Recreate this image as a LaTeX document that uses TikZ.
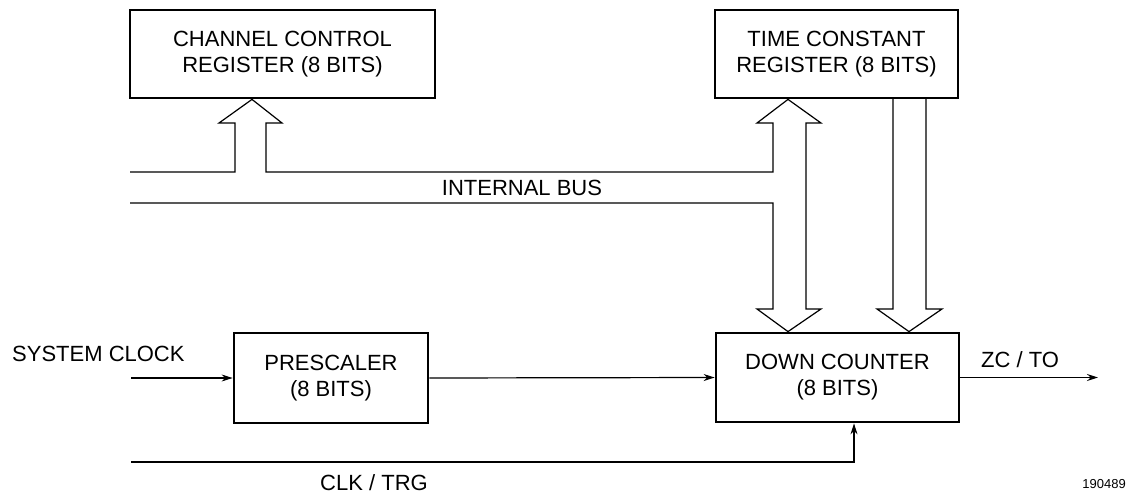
\documentclass[tikz,border=0pt]{standalone}
\usepackage{fontspec}
\setmainfont{Liberation Sans}
\usetikzlibrary{arrows.meta,calc}
\begin{document}
\begin{tikzpicture}[x=1pt,y=-1pt,
  blockbox/.style={draw,line width=2.8pt,inner sep=0pt,align=center,font=\fontsize{22}{26}\selectfont},
  lbl/.style={inner sep=0pt,font=\fontsize{22}{26}\selectfont},
  conn/.style={line width=1.2pt},
  arr/.style={conn,-{Stealth[length=11pt,width=7pt]}},
  fat/.style={line width=1.2pt,line join=miter}]
\useasboundingbox (0,0) rectangle (1128,495);
\node[blockbox,minimum width=305pt,minimum height=88pt] (ccr) at (282.5,54) {CHANNEL CONTROL\\REGISTER (8 BITS)};
\node[blockbox,minimum width=243pt,minimum height=88pt] (tcr) at (836.5,54) {TIME CONSTANT\\REGISTER (8 BITS)};
\node[blockbox,minimum width=194pt,minimum height=90pt] (pre) at (331,378) {PRESCALER\\(8 BITS)};
\node[blockbox,minimum width=243pt,minimum height=89pt] (dc) at (837.5,377.5) {DOWN COUNTER\\(8 BITS)};
% tips
\coordinate (ccrtip) at ($(ccr.south)+(-30.5,0)$);
\coordinate (tcrtip) at ($(tcr.south)+(-48.5,0)$);
\coordinate (dctip) at ($(dc.north)+(-49.5,0)$);
\coordinate (dctip2) at ($(dc.north)+(71.5,0)$);
\coordinate (busL) at (130,172);
\coordinate (busLL) at (130,203);
\coordinate (clkin) at (131,378);
\coordinate (trgin) at (131,462);
\coordinate (zcout) at (1098,377.5);
% internal bus with fat arrows
\draw[fat] (busL) -- (235,172) -- (235,123) -- (219,123) -- (ccrtip) -- (282,123) -- (266,123) -- (266,172)
  -- (773,172) -- (773,123) -- (757,123) -- (tcrtip) -- (821,123) -- (806,123) -- (806,309)
  -- (821,309) -- (dctip) -- (757,309) -- (773,309) -- (773,203) -- (busLL);
% TCR to DC fat arrow
\draw[fat] (893,98) -- (893,309) -- (877,309) -- (dctip2) -- (942,309) -- (926,309) -- (926,98);
% signal connectors
\draw[arr] (clkin) -- (pre.west);
\draw[arr] (pre.east) -- (dc.west);
\draw[arr] (dc.east) -- (zcout);
\draw[arr] (trgin) -| ($(dc.south)+(16.5,0)$);
% labels
\node[lbl,anchor=west] (sysclk) at (12,353.5) {SYSTEM CLOCK};
\node[lbl] (ibus) at (522,187.5) {INTERNAL BUS};
\node[lbl] (zcto) at (1020,360) {ZC / TO};
\node[lbl] (clktrg) at (374,482.5) {CLK / TRG};
\node[lbl,anchor=north east,font=\fontsize{13}{16}\selectfont] (figid) at (1126,479) {190489};
\end{tikzpicture}
\end{document}
